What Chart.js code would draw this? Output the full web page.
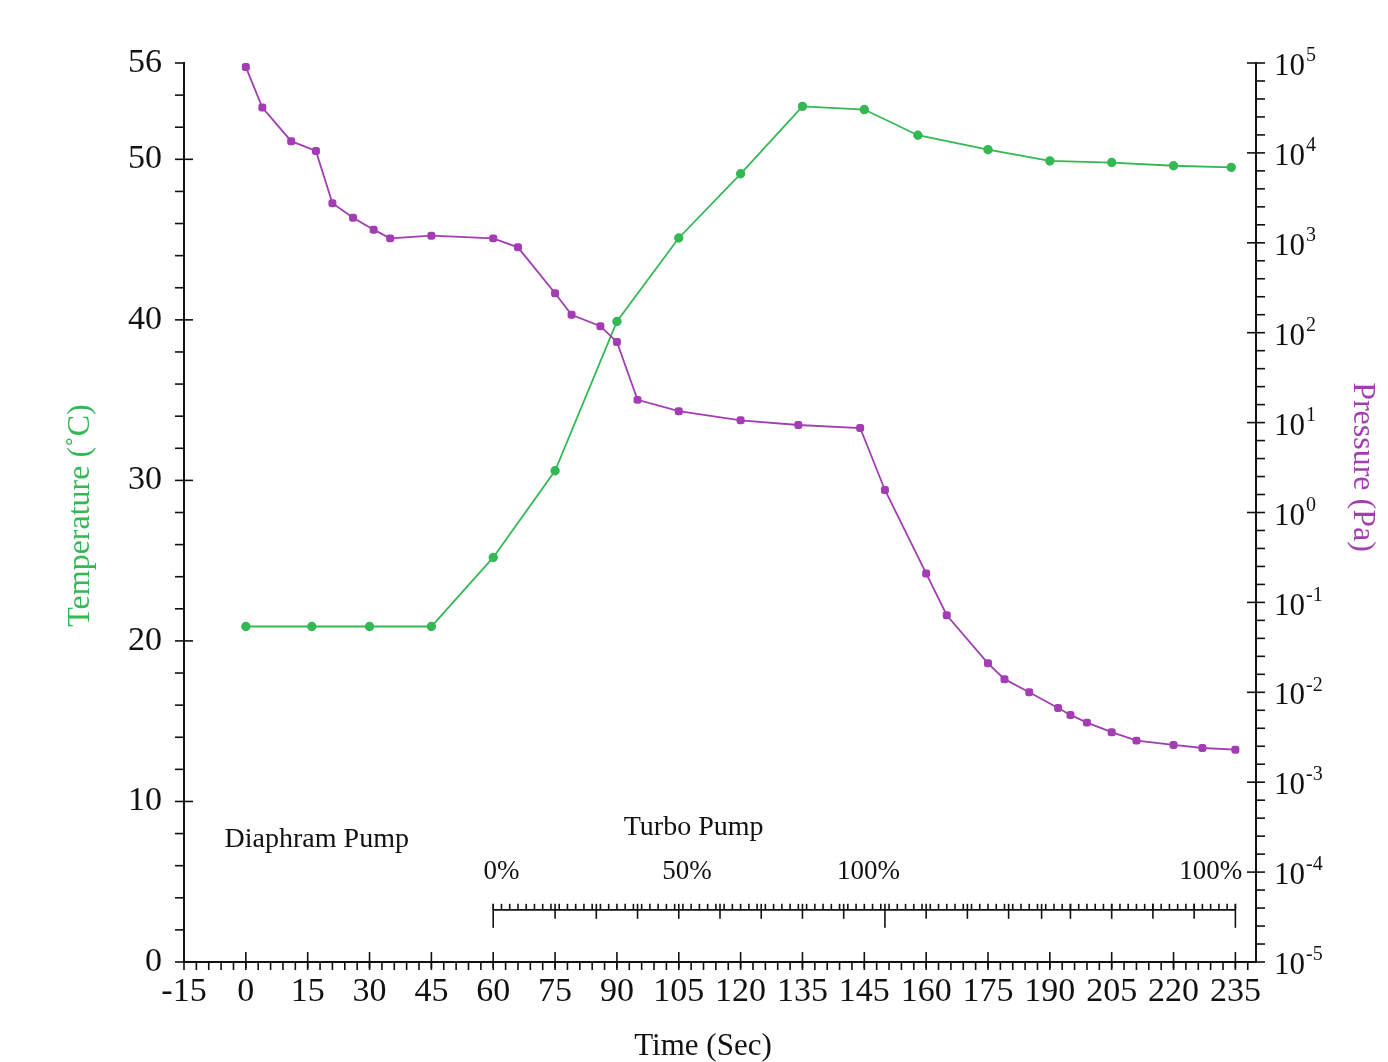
<!DOCTYPE html>
<html>
<head>
<meta charset="utf-8">
<title>Temperature and Pressure vs Time</title>
<script src="https://cdn.jsdelivr.net/npm/chart.js@4.4.1/dist/chart.umd.min.js"></script>
<style>
  html, body { margin: 0; padding: 0; background: #fff; }
  canvas { display: block; }
</style>
</head>
<body>
<canvas id="chart" width="1388" height="1062"></canvas>
<script>
// temperature (green, left axis)
const tempTimes = [0, 16, 30, 45, 60, 75, 90, 105, 120, 135, 150, 163, 180, 195, 210, 225, 239];
const tempValues = [20.9, 20.9, 20.9, 20.9, 25.2, 30.6, 39.9, 45.1, 49.1, 53.3, 53.1, 51.5, 50.6, 49.9, 49.8, 49.6, 49.5];

// pressure (purple, right log axis)
const pressTimes = [0, 4, 11, 17, 21, 26, 31, 35, 45, 60, 66, 75, 79, 86, 90, 95, 105, 120, 134, 149,
  155, 165, 170, 180, 184, 190, 197, 200, 204, 210, 216, 225, 232, 240];
const pressValues = [9.0e4, 3.2e4, 1.35e4, 1.05e4, 2750, 1900, 1400, 1120, 1200, 1120, 890, 275, 158, 118, 79, 17.9,
  13.4, 10.6, 9.4, 8.7, 1.78, 0.21, 0.072, 0.021, 0.014, 0.010, 0.0067, 0.0056, 0.0046, 0.0036, 0.0029, 0.0026,
  0.0024, 0.0023];

// axis ticks
const timeTicks = [-15, 0, 15, 30, 45, 60, 75, 90, 105, 120, 135, 150, 165, 180, 195, 210, 225, 240];
const timeLabels = ['-15', '0', '15', '30', '45', '60', '75', '90', '105', '120', '135', '145', '160', '175', '190', '205', '220', '235'];
const tempTicks = [0, 10, 20, 30, 40, 50, 56];
const pressExponents = [-5, -4, -3, -2, -1, 0, 1, 2, 3, 4, 5];

// turbo pump scale (time values)
const turboMajor = [60, 75, 85, 95, 105, 115, 125, 135, 145, 155, 165, 175, 185, 193, 200, 210, 220, 230, 240];
const turboLong = [60, 155, 240];
const turboLabels = ['0%', '50%', '100%', '100%'];
const turboLabelTimes = [62, 107, 151, 234];

const FONT = "'Liberation Serif', 'Times New Roman', serif";
const GREEN = '#33b854';
const PURPLE = '#a23db3';
const INK = '#111';

// tick marks, turbo scale, exponent labels and axis titles
const decorations = {
  id: 'decorations',
  afterDraw(chart) {
    const { ctx, chartArea: area, scales } = chart;
    const x = scales.x, y = scales.y, yp = scales.yp;
    const tick = (x1, y1, x2, y2) => {
      ctx.beginPath(); ctx.moveTo(x1, y1); ctx.lineTo(x2, y2); ctx.stroke();
    };
    ctx.save();
    ctx.strokeStyle = INK;
    ctx.fillStyle = INK;
    ctx.lineWidth = 1.6;

    // left axis
    for (let v = 0; v <= 56; v += 2) {
      const py = y.getPixelForValue(v);
      tick(area.left - 9, py, area.left + (v % 10 === 0 ? 9 : 0), py);
    }
    // right axis, 5 steps per decade
    for (let i = -25; i <= 25; i++) {
      const py = yp.getPixelForValue(Math.pow(10, i / 5));
      tick(area.right + 9, py, area.right - (i % 5 === 0 ? 9 : 0), py);
    }
    // bottom axis
    for (let v = -15; v <= 245; v += 3) {
      const px = x.getPixelForValue(v);
      tick(px, area.bottom, px, area.bottom + 8);
    }
    timeTicks.forEach(v => {
      if (v <= -15) return;
      const px = x.getPixelForValue(v);
      tick(px, area.bottom - 10, px, area.bottom + 6);
    });

    // right axis labels 10^n
    ctx.textAlign = 'left';
    ctx.textBaseline = 'middle';
    pressExponents.forEach(e => {
      const py = yp.getPixelForValue(Math.pow(10, e));
      ctx.font = '31px ' + FONT;
      const lx = area.right + 18;
      ctx.fillText('10', lx, py + 4);
      const w = ctx.measureText('10').width;
      ctx.font = '20px ' + FONT;
      ctx.fillText(String(e), lx + w + 1, py - 7);
    });

    // turbo pump scale
    const ty = y.getPixelForValue(3.25);
    const tx0 = x.getPixelForValue(60), tx1 = x.getPixelForValue(240);
    tick(tx0, ty, tx1, ty);
    for (let v = 60; v <= 240; v += 2) {
      const px = x.getPixelForValue(v);
      tick(px, ty - 6, px, ty);
    }
    turboMajor.forEach(v => {
      const px = x.getPixelForValue(v);
      tick(px, ty - 6, px, ty + (turboLong.includes(v) ? 18 : 9));
    });
    ctx.textAlign = 'center';
    ctx.font = '27px ' + FONT;
    turboLabels.forEach((t, i) => {
      ctx.fillText(t, x.getPixelForValue(turboLabelTimes[i]), y.getPixelForValue(5.6));
    });
    ctx.font = '28px ' + FONT;
    ctx.fillText('Turbo Pump', x.getPixelForValue(108.6), y.getPixelForValue(8.35));
    ctx.fillText('Diaphram Pump', x.getPixelForValue(17.2), y.getPixelForValue(7.6));

    // axis titles
    ctx.font = '32px ' + FONT;
    ctx.fillStyle = GREEN;
    ctx.save();
    ctx.translate(81, (area.top + area.bottom) / 2 + 3);
    ctx.rotate(-Math.PI / 2);
    ctx.fillText('Temperature (˚C)', 0, 0);
    ctx.restore();
    ctx.fillStyle = PURPLE;
    ctx.save();
    ctx.translate(1362, 467);
    ctx.rotate(Math.PI / 2);
    ctx.fillText('Pressure (Pa)', 0, 0);
    ctx.restore();
    ctx.fillStyle = INK;
    ctx.font = '31px ' + FONT;
    ctx.fillText('Time (Sec)', 703, 1047);
    ctx.restore();
  }
};

new Chart(document.getElementById('chart'), {
  type: 'line',
  data: {
    datasets: [
      {
        label: 'Pressure (Pa)',
        data: pressTimes.map((t, i) => ({ x: t, y: pressValues[i] })),
        yAxisID: 'yp',
        borderColor: PURPLE,
        backgroundColor: PURPLE,
        borderWidth: 1.8,
        pointStyle: 'rectRounded',
        pointRadius: 3.6,
        tension: 0,
      },
      {
        label: 'Temperature (˚C)',
        data: tempTimes.map((t, i) => ({ x: t, y: tempValues[i] })),
        yAxisID: 'y',
        borderColor: GREEN,
        backgroundColor: GREEN,
        borderWidth: 1.8,
        pointRadius: 3.8,
        tension: 0,
      },
    ],
  },
  options: {
    responsive: false,
    animation: false,
    devicePixelRatio: 1,
    layout: { padding: { top: 63, left: 0, right: 0, bottom: 0 } },
    plugins: { legend: { display: false }, tooltip: { enabled: false } },
    scales: {
      x: {
        type: 'linear',
        position: 'bottom',
        min: -15,
        max: 245,
        afterBuildTicks: s => { s.ticks = timeTicks.map(v => ({ value: v })); },
        afterFit: s => { s.height = 100; },
        ticks: {
          autoSkip: false,
          maxRotation: 0,
          padding: 10,
          color: INK,
          font: { family: FONT, size: 34 },
          callback: (v, i) => timeLabels[i],
        },
        grid: { display: false, drawTicks: false },
        border: { display: true, color: INK, width: 2 },
      },
      y: {
        position: 'left',
        min: 0,
        max: 56,
        afterBuildTicks: s => { s.ticks = tempTicks.map(v => ({ value: v })); },
        afterFit: s => { s.width = 184; },
        ticks: {
          padding: 22,
          color: INK,
          font: { family: FONT, size: 34 },
        },
        grid: { display: false, drawTicks: false },
        border: { display: true, color: INK, width: 2 },
      },
      yp: {
        type: 'logarithmic',
        position: 'right',
        min: 1e-5,
        max: 1e5,
        afterFit: s => { s.width = 132; },
        ticks: { display: false },
        grid: { display: false, drawTicks: false },
        border: { display: true, color: INK, width: 2 },
      },
    },
  },
  plugins: [decorations],
});
</script>
</body>
</html>
